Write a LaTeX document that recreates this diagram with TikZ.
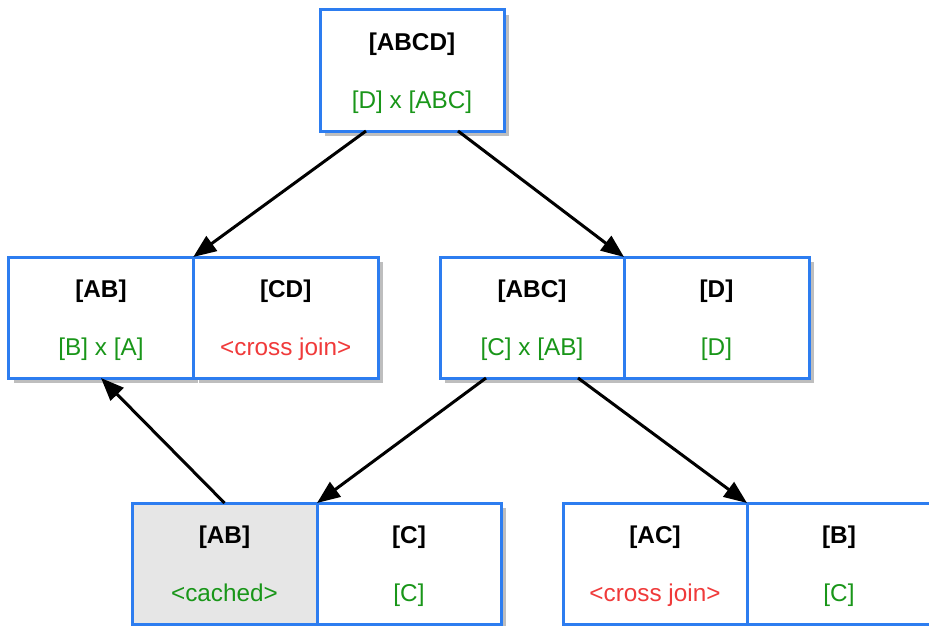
\documentclass[tikz,border=0pt]{standalone}
\usepackage{fontspec}
\setmainfont{Liberation Sans}
\usetikzlibrary{arrows.meta,shadows,calc}

\definecolor{cellblue}{RGB}{45,125,240}
\definecolor{okgreen}{RGB}{25,150,25}
\definecolor{warnred}{RGB}{240,58,58}
\definecolor{shadowgray}{RGB}{190,190,190}
\definecolor{cachedgray}{RGB}{230,230,230}

% title line (bold) over a coloured detail line; the struts keep every cell's text block the same size
\newcommand{\celltext}[3]{\rule{0pt}{22.5pt}\textbf{#1}\\\textcolor{#2}{#3\vphantom{[}}}

\begin{document}
\begin{tikzpicture}[x=1pt,y=-1pt,
  cell/.style={rectangle, draw=cellblue, line width=3pt, fill=white,
    minimum width=184pt, minimum height=121pt, inner sep=0pt, outer sep=0pt,
    align=center, font=\fontsize{24.3}{58}\selectfont,
    general shadow={fill=shadowgray, shadow xshift=5pt, shadow yshift=-5pt}},
  cachedcell/.style={cell, fill=cachedgray},
  link/.style={line width=3pt, -{Triangle[length=23pt,width=18pt]}}]

  \useasboundingbox (0,0) rectangle (929,626);

  % root join
  \node[cell] (abcd) at (412,70.5) {\celltext{[ABCD]}{okgreen}{[D] x [ABC]}};

  % second level
  \node[cell, minimum width=184.5pt] (ab)  at (101,317.5)   {\celltext{[AB]}{okgreen}{[B] x [A]}};
  \node[cell, minimum width=184.5pt] (cd)  at (285.75,317.5) {\celltext{[CD]}{warnred}{<cross join>}};
  \node[cell] (abc) at (532,317.5)   {\celltext{[ABC]}{okgreen}{[C] x [AB]}};
  \node[cell, minimum width=185pt] (d)   at (716.5,317.5) {\celltext{[D]}{okgreen}{[D]}};

  % third level
  \node[cachedcell, minimum width=185pt] (abcached) at (224.5,563.5) {\celltext{[AB]}{okgreen}{<cached>}};
  \node[cell] (c)  at (409,563.5) {\celltext{[C]}{okgreen}{[C]}};
  \node[cell] (ac) at (655,563.5) {\celltext{[AC]}{warnred}{<cross join>}};
  \node[cell] (b)  at (839,563.5) {\celltext{[B]}{okgreen}{[C]}};

  % edges
  \draw[link] ($(abcd.south west)!0.25!(abcd.south east)$) -- (ab.north east);
  \draw[link] ($(abcd.south west)!0.75!(abcd.south east)$) -- (abc.north east);
  \draw[link] ($(abc.south west)!0.25!(abc.south east)$) -- (abcached.north east);
  \draw[link] ($(abc.south west)!0.75!(abc.south east)$) -- (ac.north east);
  \draw[link] (abcached.north) -- (ab.south);
\end{tikzpicture}
\end{document}
